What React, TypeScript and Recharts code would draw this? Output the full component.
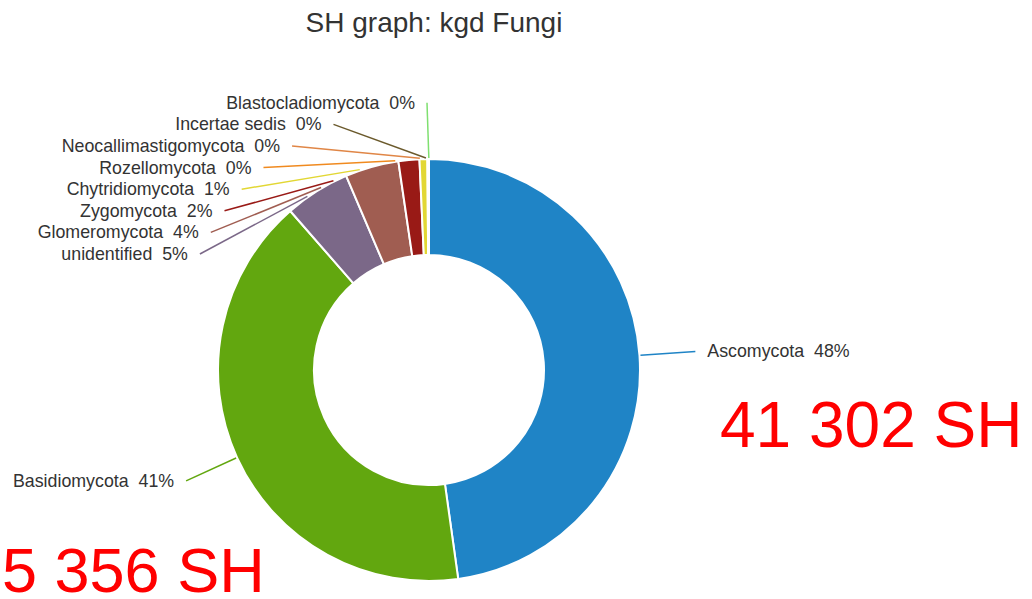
import { PieChart, Pie, Cell } from 'recharts'

const NAMES = [
  'Ascomycota',
  'Basidiomycota',
  'unidentified',
  'Glomeromycota',
  'Zygomycota',
  'Chytridiomycota',
  'Rozellomycota',
  'Neocallimastigomycota',
  'Incertae sedis',
  'Blastocladiomycota',
]
const VALUES = [47.8, 40.8, 5.0, 4.1, 1.6, 0.6, 0.05, 0.03, 0.02, 0.02]
const COLORS = [
  '#1f84c6',
  '#62a70f',
  '#7b6888',
  '#a05d51',
  '#991a16',
  '#e2d734',
  '#f08a1f',
  '#e08646',
  '#6b5a2c',
  '#7fe070',
]
const TITLE = 'SH graph: kgd Fungi'
const NOTE_RIGHT = '41 302 SH'
const NOTE_LEFT = '5 356 SH'

const data = NAMES.map((name, i) => ({ name, value: VALUES[i] }))

const FONT = '"Liberation Sans", Arial, Helvetica, sans-serif'
const RAD = Math.PI / 180
const W = 1032
const H = 599

function renderLabel(props: any) {
  const { cx, cy, midAngle, outerRadius, index, percent, name } = props
  const color = COLORS[index]
  const a = -midAngle * RAD
  const tx = cx + outerRadius * Math.cos(a)
  const ty = cy + outerRadius * Math.sin(a)
  let lx: number
  let ly: number
  if (index < 2) {
    const r = outerRadius + 56
    lx = cx + r * Math.cos(a)
    ly = cy + r * Math.sin(a)
  } else {
    // small slices are stacked in a column on the left
    ly = cy - 116 - (index - 2) * 21.6
    const r = outerRadius + 44 + (index - 2) * 1.3
    const dy = ly - cy
    lx = cx - Math.sqrt(Math.max(0, r * r - dy * dy)) - 2
  }
  // stop the leader line where it first meets the donut
  const dx = tx - lx
  const dyl = ty - ly
  const fx = lx - cx
  const fy = ly - cy
  const R = outerRadius + 1
  const qa = dx * dx + dyl * dyl
  const qb = 2 * (fx * dx + fy * dyl)
  const qc = fx * fx + fy * fy - R * R
  const disc = qb * qb - 4 * qa * qc
  let ex = tx
  let ey = ty
  if (disc > 0) {
    const t = (-qb - Math.sqrt(disc)) / (2 * qa)
    if (t > 0 && t < 1) {
      ex = lx + t * dx
      ey = ly + t * dyl
    }
  }
  const right = lx > cx + 1
  return (
    <g key={`lbl-${index}`}>
      <path
        d={`M${lx},${ly}L${ex},${ey}`}
        stroke={color}
        strokeWidth={1.5}
        fill="none"
      />
      <text
        x={right ? lx + 12 : lx - 12}
        y={ly}
        textAnchor={right ? 'start' : 'end'}
        dominantBaseline="central"
        fill="#333"
        fontSize={17.8}
        fontFamily={FONT}
        style={{ whiteSpace: 'pre' }}
      >
        {`${name}  ${Math.round(percent * 100)}%`}
      </text>
    </g>
  )
}

export default function App() {
  return (
    <div style={{ position: 'absolute', left: 0, top: 0, width: W, height: H, background: '#fff' }}>
      <PieChart width={W} height={H} margin={{ top: 0, right: 0, bottom: 0, left: 0 }}>
        <Pie
          data={data}
          dataKey="value"
          nameKey="name"
          cx={429}
          cy={370}
          innerRadius={115}
          outerRadius={211}
          startAngle={90}
          endAngle={-270}
          stroke="#fff"
          strokeWidth={2}
          label={renderLabel}
          labelLine={false}
          isAnimationActive={false}
        >
          {data.map((d, i) => (
            <Cell key={d.name} fill={COLORS[i]} />
          ))}
        </Pie>
      </PieChart>
      <svg
        width={W}
        height={H}
        style={{ position: 'absolute', left: 0, top: 0, pointerEvents: 'none' }}
      >
        <text x={434} y={32} textAnchor="middle" fontSize={28} fill="#333" fontFamily={FONT}>
          {TITLE}
        </text>
        <text x={720} y={447} fontSize={64} fill="#ff0000" fontFamily={FONT}>
          {NOTE_RIGHT}
        </text>
        <text x={2} y={592} fontSize={63} fill="#ff0000" fontFamily={FONT}>
          {NOTE_LEFT}
        </text>
      </svg>
    </div>
  )
}
